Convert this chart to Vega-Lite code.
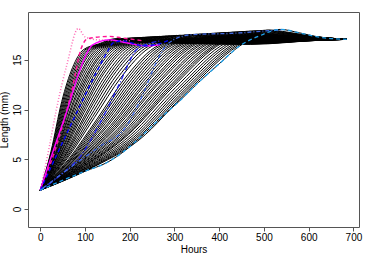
{
"$schema":"https://vega.github.io/schema/vega-lite/v6.json",
"width":331,"height":215,
"autosize":{"type":"none"},
"padding":{"left":28,"top":12,"right":7,"bottom":32},
"background":"white",
"config":{"view":{"stroke":"#555","strokeWidth":1},"font":"Liberation Sans"},
"datasets":{
"blk":[
{"id":96,"h":0,"mm":1.9},{"id":96,"h":24,"mm":5.8},{"id":96,"h":48,"mm":10.8},{"id":96,"h":72,"mm":14.2},{"id":96,"h":96,"mm":16.0},{"id":96,"h":131,"mm":16.6},{"id":96,"h":166,"mm":17.1},{"id":96,"h":206,"mm":16.8},{"id":96,"h":470,"mm":16.6},{"id":96,"h":620,"mm":16.95},{"id":96,"h":685,"mm":17.05},
{"id":100,"h":0,"mm":1.9},{"id":100,"h":25,"mm":5.8},{"id":100,"h":50,"mm":10.8},{"id":100,"h":75,"mm":14.2},{"id":100,"h":100,"mm":16.0},{"id":100,"h":135,"mm":16.6},{"id":100,"h":170,"mm":17.1},{"id":100,"h":210,"mm":16.8},{"id":100,"h":470,"mm":16.7},{"id":100,"h":620,"mm":16.95},{"id":100,"h":685,"mm":17.05},
{"id":104,"h":0,"mm":1.9},{"id":104,"h":26,"mm":5.78},{"id":104,"h":52,"mm":10.75},{"id":104,"h":78,"mm":14.17},{"id":104,"h":104,"mm":16.0},{"id":104,"h":139,"mm":16.61},{"id":104,"h":174,"mm":17.11},{"id":104,"h":214,"mm":16.81},{"id":104,"h":470,"mm":16.55},{"id":104,"h":620,"mm":16.95},{"id":104,"h":685,"mm":17.05},
{"id":108,"h":0,"mm":1.9},{"id":108,"h":27,"mm":5.76},{"id":108,"h":54,"mm":10.71},{"id":108,"h":81,"mm":14.15},{"id":108,"h":108,"mm":16.01},{"id":108,"h":143,"mm":16.62},{"id":108,"h":178,"mm":17.12},{"id":108,"h":218,"mm":16.82},{"id":108,"h":470,"mm":16.75},{"id":108,"h":620,"mm":16.96},{"id":108,"h":685,"mm":17.05},
{"id":112,"h":0,"mm":1.9},{"id":112,"h":28,"mm":5.74},{"id":112,"h":56,"mm":10.66},{"id":112,"h":84,"mm":14.12},{"id":112,"h":112,"mm":16.01},{"id":112,"h":147,"mm":16.62},{"id":112,"h":182,"mm":17.13},{"id":112,"h":222,"mm":16.84},{"id":112,"h":470,"mm":16.6},{"id":112,"h":620,"mm":16.96},{"id":112,"h":685,"mm":17.05},
{"id":116,"h":0,"mm":1.9},{"id":116,"h":29,"mm":5.72},{"id":116,"h":58,"mm":10.62},{"id":116,"h":87,"mm":14.09},{"id":116,"h":116,"mm":16.02},{"id":116,"h":151,"mm":16.63},{"id":116,"h":186,"mm":17.14},{"id":116,"h":226,"mm":16.85},{"id":116,"h":470,"mm":16.8},{"id":116,"h":620,"mm":16.97},{"id":116,"h":685,"mm":17.05},
{"id":120,"h":0,"mm":1.9},{"id":120,"h":30,"mm":5.7},{"id":120,"h":60,"mm":10.57},{"id":120,"h":90,"mm":14.07},{"id":120,"h":120,"mm":16.02},{"id":120,"h":155,"mm":16.64},{"id":120,"h":190,"mm":17.15},{"id":120,"h":230,"mm":16.86},{"id":120,"h":470,"mm":16.65},{"id":120,"h":620,"mm":16.97},{"id":120,"h":685,"mm":17.05},
{"id":125,"h":0,"mm":1.9},{"id":125,"h":31,"mm":5.67},{"id":125,"h":62,"mm":10.52},{"id":125,"h":94,"mm":14.03},{"id":125,"h":125,"mm":16.03},{"id":125,"h":160,"mm":16.65},{"id":125,"h":195,"mm":17.16},{"id":125,"h":235,"mm":16.87},{"id":125,"h":470,"mm":16.7},{"id":125,"h":620,"mm":16.98},{"id":125,"h":685,"mm":17.05},
{"id":130,"h":0,"mm":1.9},{"id":130,"h":32,"mm":5.64},{"id":130,"h":65,"mm":10.46},{"id":130,"h":97,"mm":14.0},{"id":130,"h":130,"mm":16.03},{"id":130,"h":165,"mm":16.66},{"id":130,"h":200,"mm":17.18},{"id":130,"h":240,"mm":16.89},{"id":130,"h":470,"mm":16.85},{"id":130,"h":620,"mm":16.98},{"id":130,"h":685,"mm":17.05},
{"id":135,"h":0,"mm":1.9},{"id":135,"h":34,"mm":5.62},{"id":135,"h":67,"mm":10.41},{"id":135,"h":101,"mm":13.97},{"id":135,"h":135,"mm":16.04},{"id":135,"h":170,"mm":16.67},{"id":135,"h":205,"mm":17.19},{"id":135,"h":245,"mm":16.9},{"id":135,"h":470,"mm":16.6},{"id":135,"h":620,"mm":16.99},{"id":135,"h":685,"mm":17.05},
{"id":140,"h":0,"mm":1.9},{"id":140,"h":35,"mm":5.59},{"id":140,"h":70,"mm":10.35},{"id":140,"h":105,"mm":13.93},{"id":140,"h":140,"mm":16.05},{"id":140,"h":175,"mm":16.68},{"id":140,"h":210,"mm":17.2},{"id":140,"h":250,"mm":16.92},{"id":140,"h":470,"mm":16.75},{"id":140,"h":620,"mm":16.99},{"id":140,"h":685,"mm":17.05},
{"id":145,"h":0,"mm":1.9},{"id":145,"h":36,"mm":5.57},{"id":145,"h":72,"mm":10.29},{"id":145,"h":109,"mm":13.9},{"id":145,"h":145,"mm":16.05},{"id":145,"h":180,"mm":16.69},{"id":145,"h":215,"mm":17.22},{"id":145,"h":255,"mm":16.93},{"id":145,"h":470,"mm":16.9},{"id":145,"h":620,"mm":17.0},{"id":145,"h":685,"mm":17.05},
{"id":150,"h":0,"mm":1.9},{"id":150,"h":37,"mm":5.54},{"id":150,"h":75,"mm":10.23},{"id":150,"h":112,"mm":13.87},{"id":150,"h":150,"mm":16.06},{"id":150,"h":185,"mm":16.7},{"id":150,"h":220,"mm":17.23},{"id":150,"h":260,"mm":16.95},{"id":150,"h":470,"mm":16.65},{"id":150,"h":620,"mm":17.0},{"id":150,"h":685,"mm":17.05},
{"id":155,"h":0,"mm":1.9},{"id":155,"h":39,"mm":5.51},{"id":155,"h":77,"mm":10.18},{"id":155,"h":116,"mm":13.83},{"id":155,"h":155,"mm":16.06},{"id":155,"h":190,"mm":16.71},{"id":155,"h":225,"mm":17.24},{"id":155,"h":265,"mm":16.96},{"id":155,"h":470,"mm":16.8},{"id":155,"h":620,"mm":17.01},{"id":155,"h":685,"mm":17.05},
{"id":160,"h":0,"mm":1.9},{"id":160,"h":40,"mm":5.49},{"id":160,"h":80,"mm":10.13},{"id":160,"h":120,"mm":13.8},{"id":160,"h":160,"mm":16.07},{"id":160,"h":195,"mm":16.72},{"id":160,"h":230,"mm":17.26},{"id":160,"h":270,"mm":16.97},{"id":160,"h":470,"mm":16.95},{"id":160,"h":620,"mm":17.01},{"id":160,"h":685,"mm":17.05},
{"id":166,"h":0,"mm":1.9},{"id":166,"h":41,"mm":5.46},{"id":166,"h":83,"mm":10.06},{"id":166,"h":124,"mm":13.76},{"id":166,"h":166,"mm":16.08},{"id":166,"h":201,"mm":16.73},{"id":166,"h":236,"mm":17.27},{"id":166,"h":276,"mm":16.99},{"id":166,"h":470,"mm":16.7},{"id":166,"h":620,"mm":17.02},{"id":166,"h":685,"mm":17.05},
{"id":172,"h":0,"mm":1.9},{"id":172,"h":43,"mm":5.43},{"id":172,"h":86,"mm":9.99},{"id":172,"h":129,"mm":13.72},{"id":172,"h":172,"mm":16.08},{"id":172,"h":207,"mm":16.75},{"id":172,"h":242,"mm":17.29},{"id":172,"h":282,"mm":17.01},{"id":172,"h":470,"mm":16.85},{"id":172,"h":620,"mm":17.02},{"id":172,"h":685,"mm":17.05},
{"id":178,"h":0,"mm":1.9},{"id":178,"h":44,"mm":5.4},{"id":178,"h":89,"mm":9.92},{"id":178,"h":133,"mm":13.68},{"id":178,"h":178,"mm":16.09},{"id":178,"h":213,"mm":16.76},{"id":178,"h":248,"mm":17.3},{"id":178,"h":288,"mm":17.02},{"id":178,"h":470,"mm":17.0},{"id":178,"h":620,"mm":17.03},{"id":178,"h":685,"mm":17.05},
{"id":184,"h":0,"mm":1.9},{"id":184,"h":46,"mm":5.36},{"id":184,"h":92,"mm":9.85},{"id":184,"h":138,"mm":13.64},{"id":184,"h":184,"mm":16.1},{"id":184,"h":219,"mm":16.77},{"id":184,"h":254,"mm":17.32},{"id":184,"h":294,"mm":17.04},{"id":184,"h":470,"mm":16.75},{"id":184,"h":620,"mm":17.04},{"id":184,"h":685,"mm":17.05},
{"id":190,"h":0,"mm":1.9},{"id":190,"h":47,"mm":5.33},{"id":190,"h":95,"mm":9.79},{"id":190,"h":142,"mm":13.6},{"id":190,"h":190,"mm":16.1},{"id":190,"h":225,"mm":16.78},{"id":190,"h":260,"mm":17.33},{"id":190,"h":300,"mm":17.06},{"id":190,"h":470,"mm":16.9},{"id":190,"h":620,"mm":17.04},{"id":190,"h":685,"mm":17.05},
{"id":197,"h":0,"mm":1.9},{"id":197,"h":49,"mm":5.3},{"id":197,"h":98,"mm":9.71},{"id":197,"h":148,"mm":13.56},{"id":197,"h":197,"mm":16.11},{"id":197,"h":232,"mm":16.8},{"id":197,"h":267,"mm":17.35},{"id":197,"h":307,"mm":17.08},{"id":197,"h":470,"mm":17.05},{"id":197,"h":620,"mm":17.05},{"id":197,"h":685,"mm":17.05},
{"id":204,"h":0,"mm":1.9},{"id":204,"h":51,"mm":5.26},{"id":204,"h":102,"mm":9.63},{"id":204,"h":153,"mm":13.51},{"id":204,"h":204,"mm":16.12},{"id":204,"h":239,"mm":16.81},{"id":204,"h":274,"mm":17.37},{"id":204,"h":314,"mm":17.1},{"id":204,"h":470,"mm":16.85},{"id":204,"h":620,"mm":17.06},{"id":204,"h":685,"mm":17.05},
{"id":211,"h":0,"mm":1.9},{"id":211,"h":53,"mm":5.22},{"id":211,"h":105,"mm":9.55},{"id":211,"h":158,"mm":13.46},{"id":211,"h":211,"mm":16.13},{"id":211,"h":246,"mm":16.82},{"id":211,"h":281,"mm":17.39},{"id":211,"h":321,"mm":17.12},{"id":211,"h":470,"mm":17.0},{"id":211,"h":620,"mm":17.06},{"id":211,"h":685,"mm":17.05},
{"id":218,"h":0,"mm":1.9},{"id":218,"h":54,"mm":5.19},{"id":218,"h":109,"mm":9.47},{"id":218,"h":163,"mm":13.42},{"id":218,"h":218,"mm":16.14},{"id":218,"h":253,"mm":16.84},{"id":218,"h":288,"mm":17.41},{"id":218,"h":328,"mm":17.14},{"id":218,"h":470,"mm":17.1},{"id":218,"h":620,"mm":17.07},{"id":218,"h":685,"mm":17.05},
{"id":226,"h":0,"mm":1.9},{"id":226,"h":56,"mm":5.14},{"id":226,"h":113,"mm":9.38},{"id":226,"h":169,"mm":13.36},{"id":226,"h":226,"mm":16.15},{"id":226,"h":261,"mm":16.85},{"id":226,"h":296,"mm":17.43},{"id":226,"h":336,"mm":17.16},{"id":226,"h":470,"mm":16.95},{"id":226,"h":620,"mm":17.08},{"id":226,"h":685,"mm":17.05},
{"id":234,"h":0,"mm":1.9},{"id":234,"h":58,"mm":5.1},{"id":234,"h":117,"mm":9.29},{"id":234,"h":175,"mm":13.31},{"id":234,"h":234,"mm":16.15},{"id":234,"h":269,"mm":16.87},{"id":234,"h":304,"mm":17.45},{"id":234,"h":344,"mm":17.19},{"id":234,"h":470,"mm":17.15},{"id":234,"h":620,"mm":17.09},{"id":234,"h":685,"mm":17.05},
{"id":242,"h":0,"mm":1.9},{"id":242,"h":60,"mm":5.06},{"id":242,"h":121,"mm":9.2},{"id":242,"h":181,"mm":13.26},{"id":242,"h":242,"mm":16.16},{"id":242,"h":277,"mm":16.89},{"id":242,"h":312,"mm":17.47},{"id":242,"h":352,"mm":17.21},{"id":242,"h":470,"mm":17.05},{"id":242,"h":620,"mm":17.09},{"id":242,"h":685,"mm":17.05},
{"id":254,"h":0,"mm":1.9},{"id":254,"h":63,"mm":5.0},{"id":254,"h":127,"mm":9.06},{"id":254,"h":190,"mm":13.18},{"id":254,"h":254,"mm":16.18},{"id":254,"h":289,"mm":16.91},{"id":254,"h":324,"mm":17.5},{"id":254,"h":364,"mm":17.25},{"id":254,"h":470,"mm":17.2},{"id":254,"h":620,"mm":17.11},{"id":254,"h":685,"mm":17.05},
{"id":260,"h":0,"mm":1.9},{"id":260,"h":65,"mm":4.97},{"id":260,"h":130,"mm":9.0},{"id":260,"h":195,"mm":13.14},{"id":260,"h":260,"mm":16.18},{"id":260,"h":295,"mm":16.92},{"id":260,"h":330,"mm":17.52},{"id":260,"h":370,"mm":17.26},{"id":260,"h":470,"mm":17.1},{"id":260,"h":620,"mm":17.11},{"id":260,"h":685,"mm":17.05},
{"id":267,"h":0,"mm":1.9},{"id":267,"h":67,"mm":4.93},{"id":267,"h":133,"mm":8.92},{"id":267,"h":200,"mm":13.09},{"id":267,"h":267,"mm":16.19},{"id":267,"h":302,"mm":16.94},{"id":267,"h":337,"mm":17.53},{"id":267,"h":377,"mm":17.28},{"id":267,"h":470,"mm":17.1},{"id":267,"h":620,"mm":17.12},{"id":267,"h":685,"mm":17.05},
{"id":273,"h":0,"mm":1.9},{"id":273,"h":68,"mm":4.9},{"id":273,"h":137,"mm":8.85},{"id":273,"h":205,"mm":13.05},{"id":273,"h":273,"mm":16.2},{"id":273,"h":308,"mm":16.95},{"id":273,"h":343,"mm":17.55},{"id":273,"h":383,"mm":17.3},{"id":273,"h":470,"mm":17.2},{"id":273,"h":620,"mm":17.13},{"id":273,"h":685,"mm":17.05},
{"id":280,"h":0,"mm":1.9},{"id":280,"h":70,"mm":4.86},{"id":280,"h":140,"mm":8.77},{"id":280,"h":210,"mm":13.0},{"id":280,"h":280,"mm":16.21},{"id":280,"h":315,"mm":16.96},{"id":280,"h":350,"mm":17.57},{"id":280,"h":390,"mm":17.32},{"id":280,"h":470,"mm":17.3},{"id":280,"h":620,"mm":17.13},{"id":280,"h":685,"mm":17.05},
{"id":286,"h":0,"mm":1.9},{"id":286,"h":72,"mm":4.83},{"id":286,"h":143,"mm":8.7},{"id":286,"h":215,"mm":12.96},{"id":286,"h":286,"mm":16.22},{"id":286,"h":321,"mm":16.98},{"id":286,"h":356,"mm":17.58},{"id":286,"h":396,"mm":17.34},{"id":286,"h":470,"mm":17.15},{"id":286,"h":620,"mm":17.14},{"id":286,"h":685,"mm":17.05},
{"id":293,"h":0,"mm":1.9},{"id":293,"h":73,"mm":4.8},{"id":293,"h":146,"mm":8.62},{"id":293,"h":220,"mm":12.92},{"id":293,"h":293,"mm":16.22},{"id":293,"h":328,"mm":16.99},{"id":293,"h":363,"mm":17.6},{"id":293,"h":403,"mm":17.36},{"id":293,"h":470,"mm":17.25},{"id":293,"h":620,"mm":17.15},{"id":293,"h":685,"mm":17.05},
{"id":300,"h":0,"mm":1.9},{"id":300,"h":75,"mm":4.76},{"id":300,"h":150,"mm":8.55},{"id":300,"h":225,"mm":12.87},{"id":300,"h":300,"mm":16.23},{"id":300,"h":335,"mm":17.0},{"id":300,"h":370,"mm":17.62},{"id":300,"h":410,"mm":17.38},{"id":300,"h":470,"mm":17.35},{"id":300,"h":620,"mm":17.15},{"id":300,"h":685,"mm":17.05},
{"id":306,"h":0,"mm":1.9},{"id":306,"h":77,"mm":4.73},{"id":306,"h":153,"mm":8.48},{"id":306,"h":230,"mm":12.83},{"id":306,"h":306,"mm":16.24},{"id":306,"h":341,"mm":17.02},{"id":306,"h":376,"mm":17.64},{"id":306,"h":416,"mm":17.4},{"id":306,"h":470,"mm":17.4},{"id":306,"h":620,"mm":17.16},{"id":306,"h":685,"mm":17.05},
{"id":313,"h":0,"mm":1.9},{"id":313,"h":78,"mm":4.69},{"id":313,"h":157,"mm":8.4},{"id":313,"h":235,"mm":12.78},{"id":313,"h":313,"mm":16.25},{"id":313,"h":348,"mm":17.03},{"id":313,"h":383,"mm":17.65},{"id":313,"h":423,"mm":17.42},{"id":313,"h":475,"mm":17.3},{"id":313,"h":620,"mm":17.17},{"id":313,"h":685,"mm":17.05},
{"id":319,"h":0,"mm":1.9},{"id":319,"h":80,"mm":4.66},{"id":319,"h":160,"mm":8.33},{"id":319,"h":239,"mm":12.74},{"id":319,"h":319,"mm":16.25},{"id":319,"h":354,"mm":17.04},{"id":319,"h":389,"mm":17.67},{"id":319,"h":429,"mm":17.43},{"id":319,"h":480,"mm":17.4},{"id":319,"h":620,"mm":17.17},{"id":319,"h":685,"mm":17.05},
{"id":326,"h":0,"mm":1.9},{"id":326,"h":82,"mm":4.62},{"id":326,"h":163,"mm":8.25},{"id":326,"h":245,"mm":12.7},{"id":326,"h":326,"mm":16.26},{"id":326,"h":361,"mm":17.06},{"id":326,"h":396,"mm":17.69},{"id":326,"h":436,"mm":17.45},{"id":326,"h":620,"mm":17.18},{"id":326,"h":685,"mm":17.05},
{"id":332,"h":0,"mm":1.9},{"id":332,"h":83,"mm":4.59},{"id":332,"h":166,"mm":8.18},{"id":332,"h":249,"mm":12.66},{"id":332,"h":332,"mm":16.27},{"id":332,"h":367,"mm":17.07},{"id":332,"h":402,"mm":17.7},{"id":332,"h":442,"mm":17.47},{"id":332,"h":620,"mm":17.18},{"id":332,"h":685,"mm":17.05},
{"id":338,"h":0,"mm":1.9},{"id":338,"h":85,"mm":4.56},{"id":338,"h":169,"mm":8.12},{"id":338,"h":254,"mm":12.62},{"id":338,"h":338,"mm":16.28},{"id":338,"h":373,"mm":17.08},{"id":338,"h":408,"mm":17.72},{"id":338,"h":448,"mm":17.49},{"id":338,"h":620,"mm":17.19},{"id":338,"h":685,"mm":17.05},
{"id":345,"h":0,"mm":1.9},{"id":345,"h":86,"mm":4.53},{"id":345,"h":173,"mm":8.04},{"id":345,"h":259,"mm":12.57},{"id":345,"h":345,"mm":16.28},{"id":345,"h":380,"mm":17.1},{"id":345,"h":415,"mm":17.74},{"id":345,"h":455,"mm":17.51},{"id":345,"h":620,"mm":17.2},{"id":345,"h":685,"mm":17.05},
{"id":351,"h":0,"mm":1.9},{"id":351,"h":88,"mm":4.5},{"id":351,"h":176,"mm":7.97},{"id":351,"h":263,"mm":12.53},{"id":351,"h":351,"mm":16.29},{"id":351,"h":386,"mm":17.11},{"id":351,"h":421,"mm":17.75},{"id":351,"h":461,"mm":17.53},{"id":351,"h":620,"mm":17.2},{"id":351,"h":685,"mm":17.05},
{"id":358,"h":0,"mm":1.9},{"id":358,"h":90,"mm":4.46},{"id":358,"h":179,"mm":7.89},{"id":358,"h":269,"mm":12.48},{"id":358,"h":358,"mm":16.3},{"id":358,"h":393,"mm":17.12},{"id":358,"h":428,"mm":17.77},{"id":358,"h":468,"mm":17.55},{"id":358,"h":620,"mm":17.21},{"id":358,"h":685,"mm":17.05},
{"id":364,"h":0,"mm":1.9},{"id":364,"h":91,"mm":4.43},{"id":364,"h":182,"mm":7.82},{"id":364,"h":273,"mm":12.45},{"id":364,"h":364,"mm":16.31},{"id":364,"h":399,"mm":17.13},{"id":364,"h":434,"mm":17.79},{"id":364,"h":474,"mm":17.56},{"id":364,"h":620,"mm":17.22},{"id":364,"h":685,"mm":17.05},
{"id":371,"h":0,"mm":1.9},{"id":371,"h":93,"mm":4.39},{"id":371,"h":186,"mm":7.75},{"id":371,"h":278,"mm":12.4},{"id":371,"h":371,"mm":16.31},{"id":371,"h":406,"mm":17.15},{"id":371,"h":441,"mm":17.8},{"id":371,"h":481,"mm":17.58},{"id":371,"h":620,"mm":17.22},{"id":371,"h":685,"mm":17.05},
{"id":377,"h":0,"mm":1.9},{"id":377,"h":94,"mm":4.36},{"id":377,"h":189,"mm":7.68},{"id":377,"h":283,"mm":12.36},{"id":377,"h":377,"mm":16.32},{"id":377,"h":412,"mm":17.16},{"id":377,"h":447,"mm":17.82},{"id":377,"h":487,"mm":17.6},{"id":377,"h":620,"mm":17.23},{"id":377,"h":685,"mm":17.05},
{"id":384,"h":0,"mm":1.9},{"id":384,"h":96,"mm":4.32},{"id":384,"h":192,"mm":7.6},{"id":384,"h":288,"mm":12.31},{"id":384,"h":384,"mm":16.33},{"id":384,"h":419,"mm":17.17},{"id":384,"h":454,"mm":17.84},{"id":384,"h":494,"mm":17.62},{"id":384,"h":620,"mm":17.24},{"id":384,"h":685,"mm":17.05},
{"id":389,"h":0,"mm":1.9},{"id":389,"h":97,"mm":4.3},{"id":389,"h":195,"mm":7.54},{"id":389,"h":292,"mm":12.28},{"id":389,"h":389,"mm":16.33},{"id":389,"h":424,"mm":17.18},{"id":389,"h":459,"mm":17.85},{"id":389,"h":499,"mm":17.64},{"id":389,"h":620,"mm":17.24},{"id":389,"h":685,"mm":17.05},
{"id":394,"h":0,"mm":1.9},{"id":394,"h":99,"mm":4.27},{"id":394,"h":197,"mm":7.49},{"id":394,"h":296,"mm":12.25},{"id":394,"h":394,"mm":16.34},{"id":394,"h":429,"mm":17.2},{"id":394,"h":464,"mm":17.87},{"id":394,"h":504,"mm":17.65},{"id":394,"h":620,"mm":17.25},{"id":394,"h":685,"mm":17.05},
{"id":402,"h":0,"mm":1.9},{"id":402,"h":101,"mm":4.23},{"id":402,"h":201,"mm":7.4},{"id":402,"h":302,"mm":12.19},{"id":402,"h":402,"mm":16.35},{"id":402,"h":437,"mm":17.21},{"id":402,"h":472,"mm":17.89},{"id":402,"h":512,"mm":17.67},{"id":402,"h":620,"mm":17.26},{"id":402,"h":685,"mm":17.05},
{"id":410,"h":0,"mm":1.9},{"id":410,"h":103,"mm":4.19},{"id":410,"h":205,"mm":7.31},{"id":410,"h":308,"mm":12.14},{"id":410,"h":410,"mm":16.36},{"id":410,"h":445,"mm":17.23},{"id":410,"h":480,"mm":17.91},{"id":410,"h":520,"mm":17.7},{"id":410,"h":620,"mm":17.26},{"id":410,"h":685,"mm":17.05},
{"id":417,"h":0,"mm":1.9},{"id":417,"h":104,"mm":4.15},{"id":417,"h":209,"mm":7.23},{"id":417,"h":313,"mm":12.09},{"id":417,"h":417,"mm":16.37},{"id":417,"h":452,"mm":17.24},{"id":417,"h":487,"mm":17.92},{"id":417,"h":527,"mm":17.72},{"id":417,"h":620,"mm":17.27},{"id":417,"h":685,"mm":17.05},
{"id":424,"h":0,"mm":1.9},{"id":424,"h":106,"mm":4.12},{"id":424,"h":212,"mm":7.15},{"id":424,"h":318,"mm":12.05},{"id":424,"h":424,"mm":16.37},{"id":424,"h":459,"mm":17.26},{"id":424,"h":494,"mm":17.94},{"id":424,"h":534,"mm":17.74},{"id":424,"h":620,"mm":17.28},{"id":424,"h":685,"mm":17.05},
{"id":430,"h":0,"mm":1.9},{"id":430,"h":108,"mm":4.08},{"id":430,"h":215,"mm":7.08},{"id":430,"h":323,"mm":12.01},{"id":430,"h":430,"mm":16.38},{"id":430,"h":465,"mm":17.27},{"id":430,"h":500,"mm":17.96},{"id":430,"h":540,"mm":17.75},{"id":430,"h":620,"mm":17.28},{"id":430,"h":685,"mm":17.05},
{"id":436,"h":0,"mm":1.9},{"id":436,"h":109,"mm":4.05},{"id":436,"h":218,"mm":7.01},{"id":436,"h":327,"mm":11.97},{"id":436,"h":436,"mm":16.39},{"id":436,"h":471,"mm":17.28},{"id":436,"h":506,"mm":17.97},{"id":436,"h":546,"mm":17.77},{"id":436,"h":620,"mm":17.29},{"id":436,"h":685,"mm":17.05},
{"id":441,"h":0,"mm":1.9},{"id":441,"h":110,"mm":4.03},{"id":441,"h":221,"mm":6.95},{"id":441,"h":331,"mm":11.93},{"id":441,"h":441,"mm":16.39},{"id":441,"h":476,"mm":17.29},{"id":441,"h":511,"mm":17.99},{"id":441,"h":551,"mm":17.79},{"id":441,"h":620,"mm":17.29},{"id":441,"h":685,"mm":17.05},
{"id":446,"h":0,"mm":1.9},{"id":446,"h":40,"mm":2.7},{"id":446,"h":100,"mm":3.8},{"id":446,"h":150,"mm":4.7},{"id":446,"h":190,"mm":5.9},{"id":446,"h":230,"mm":7.5},{"id":446,"h":270,"mm":9.2},{"id":446,"h":312,"mm":10.9},{"id":446,"h":353,"mm":12.7},{"id":446,"h":400,"mm":14.6},{"id":446,"h":446,"mm":16.4},{"id":446,"h":490,"mm":17.4},{"id":446,"h":536,"mm":18.05},{"id":446,"h":580,"mm":17.7},{"id":446,"h":620,"mm":17.3},{"id":446,"h":685,"mm":17.05}
],
"col":[
{"s":"pinkdot","h":0,"mm":1.9},{"s":"pinkdot","h":20,"mm":6.2},{"s":"pinkdot","h":36,"mm":10.0},{"s":"pinkdot","h":60,"mm":14.6},{"s":"pinkdot","h":85,"mm":18.15},{"s":"pinkdot","h":100,"mm":17.3},{"s":"pinkdot","h":130,"mm":17.0},{"s":"pinkdot","h":200,"mm":16.9},
{"s":"pinkdash","h":0,"mm":1.9},{"s":"pinkdash","h":32,"mm":5.8},{"s":"pinkdash","h":70,"mm":11.8},{"s":"pinkdash","h":92,"mm":16.2},{"s":"pinkdash","h":105,"mm":17.1},{"s":"pinkdash","h":155,"mm":17.35},{"s":"pinkdash","h":182,"mm":17.2},{"s":"pinkdash","h":230,"mm":16.9},
{"s":"magenta","h":0,"mm":1.9},{"s":"magenta","h":30,"mm":6.0},{"s":"magenta","h":62,"mm":10.2},{"s":"magenta","h":85,"mm":13.5},{"s":"magenta","h":107,"mm":15.9},{"s":"magenta","h":117,"mm":16.5},{"s":"magenta","h":155,"mm":17.0},{"s":"magenta","h":193,"mm":16.7},{"s":"magenta","h":238,"mm":16.4},{"s":"magenta","h":267,"mm":16.5},
{"s":"blue1","h":0,"mm":1.9},{"s":"blue1","h":88,"mm":10.3},{"s":"blue1","h":125,"mm":13.7},{"s":"blue1","h":150,"mm":15.8},{"s":"blue1","h":163,"mm":16.7},{"s":"blue1","h":185,"mm":16.9},{"s":"blue1","h":230,"mm":16.4},{"s":"blue1","h":265,"mm":16.6},{"s":"blue1","h":290,"mm":17.0},
{"s":"blue2","h":0,"mm":1.9},{"s":"blue2","h":50,"mm":3.6},{"s":"blue2","h":88,"mm":5.2},{"s":"blue2","h":133,"mm":8.6},{"s":"blue2","h":175,"mm":12.4},{"s":"blue2","h":215,"mm":16.0},{"s":"blue2","h":240,"mm":16.6},{"s":"blue2","h":270,"mm":16.9},
{"s":"blue3","h":0,"mm":1.9},{"s":"blue3","h":80,"mm":4.6},{"s":"blue3","h":130,"mm":6.2},{"s":"blue3","h":192,"mm":8.3},{"s":"blue3","h":230,"mm":11.6},{"s":"blue3","h":262,"mm":15.0},{"s":"blue3","h":285,"mm":16.6},{"s":"blue3","h":334,"mm":17.5},{"s":"blue3","h":446,"mm":17.7},{"s":"blue3","h":504,"mm":17.9},{"s":"blue3","h":540,"mm":18.0},
{"s":"cyan","h":0,"mm":1.9},{"s":"cyan","h":40,"mm":2.7},{"s":"cyan","h":100,"mm":3.8},{"s":"cyan","h":150,"mm":4.7},{"s":"cyan","h":190,"mm":5.9},{"s":"cyan","h":230,"mm":7.5},{"s":"cyan","h":270,"mm":9.2},{"s":"cyan","h":312,"mm":10.9},{"s":"cyan","h":353,"mm":12.7},{"s":"cyan","h":400,"mm":14.6},{"s":"cyan","h":446,"mm":16.4},{"s":"cyan","h":490,"mm":17.4},{"s":"cyan","h":536,"mm":18.05},{"s":"cyan","h":580,"mm":17.7},{"s":"cyan","h":620,"mm":17.3},{"s":"cyan","h":685,"mm":17.05}
]
},
"encoding":{
"x":{"field":"h","type":"quantitative","scale":{"domain":[-27.4,712.4],"nice":false,"zero":false},
 "axis":{"values":[0,100,200,300,400,500,600,700],"grid":false,"domain":false,"tickColor":"#555","tickSize":4,"labelFont":"Liberation Sans","labelFontSize":10,"labelColor":"#000","labelPadding":1,"labelFlush":false,"title":"Hours","titleFont":"Liberation Sans","titleFontSize":10,"titleFontWeight":"normal","titleColor":"#000","titlePadding":2}},
"y":{"field":"mm","type":"quantitative","scale":{"domain":[-1.8,19.8],"nice":false,"zero":false},
 "axis":{"values":[0,5,10,15],"grid":false,"domain":false,"tickColor":"#555","tickSize":4,"labelFont":"Liberation Sans","labelFontSize":10,"labelColor":"#000","labelAngle":270,"labelAlign":"center","labelBaseline":"bottom","labelPadding":2,"title":"Length (mm)","titleFont":"Liberation Sans","titleFontSize":10,"titleFontWeight":"normal","titleColor":"#000","titlePadding":3}}
},
"layer":[
{"data":{"name":"blk"},"mark":{"type":"line","color":"black","strokeWidth":1,"interpolate":"monotone"},"encoding":{"detail":{"field":"id","type":"nominal"}}},
{"data":{"name":"col"},"mark":{"type":"line","interpolate":"monotone"},
 "encoding":{
  "color":{"field":"s","type":"nominal","scale":{"domain":["pinkdot","pinkdash","magenta","blue1","blue2","blue3","cyan"],"range":["#FF69B4","#FF1493","#FF00FF","#0000FF","#2222EE","#4169E1","#1E9FE8"]},"legend":null},
  "strokeDash":{"field":"s","type":"nominal","scale":{"domain":["pinkdot","pinkdash","magenta","blue1","blue2","blue3","cyan"],"range":[[1,2],[4,3],[1,0],[4,3],[5,2,1,2],[1,2,4,2],[4,3]]},"legend":null},
  "strokeWidth":{"field":"s","type":"nominal","scale":{"domain":["pinkdot","pinkdash","magenta","blue1","blue2","blue3","cyan"],"range":[1.5,1.3,1.3,1.2,1.2,1.2,1.3]},"legend":null}
 }}
]
}
